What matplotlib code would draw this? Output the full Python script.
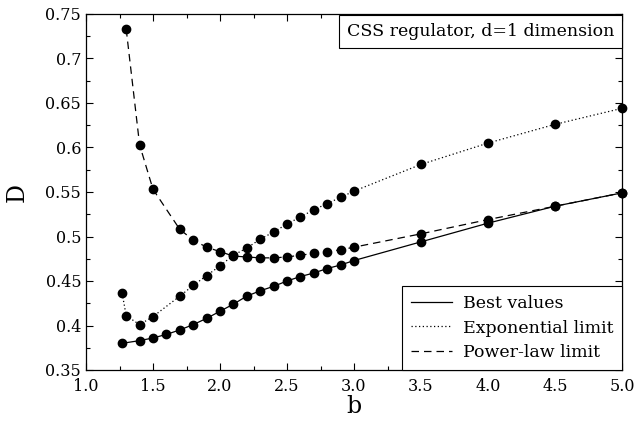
import matplotlib
matplotlib.use("Agg")
import matplotlib.pyplot as plt
from matplotlib.lines import Line2D
from matplotlib.ticker import MultipleLocator, FuncFormatter

plt.rcParams.update({
    "font.family": "DejaVu Serif",
    "mathtext.fontset": "dejavuserif",
})

# Best values (solid)
b_best = [1.27, 1.4, 1.5, 1.6, 1.7, 1.8, 1.9, 2.0, 2.1, 2.2, 2.3, 2.4, 2.5, 2.6,
          2.7, 2.8, 2.9, 3.0, 3.5, 4.0, 4.5, 5.0]
d_best = [0.380, 0.383, 0.386, 0.390, 0.395, 0.401, 0.408, 0.416, 0.424, 0.433,
          0.439, 0.444, 0.450, 0.455, 0.459, 0.464, 0.468, 0.473, 0.494, 0.515,
          0.534, 0.549]

# Exponential limit (dotted)
b_exp = [1.27, 1.3, 1.4, 1.5, 1.7, 1.8, 1.9, 2.0, 2.1, 2.2, 2.3, 2.4, 2.5, 2.6,
         2.7, 2.8, 2.9, 3.0, 3.5, 4.0, 4.5, 5.0]
d_exp = [0.436, 0.411, 0.401, 0.410, 0.433, 0.445, 0.456, 0.467, 0.479, 0.487,
         0.497, 0.505, 0.514, 0.522, 0.530, 0.537, 0.544, 0.551, 0.581, 0.605,
         0.626, 0.644]

# Power-law limit (dashed)
b_pow = [1.3, 1.4, 1.5, 1.7, 1.8, 1.9, 2.0, 2.1, 2.2, 2.3, 2.4, 2.5, 2.6, 2.7,
         2.8, 2.9, 3.0, 3.5, 4.0, 4.5, 5.0]
d_pow = [0.733, 0.603, 0.553, 0.508, 0.496, 0.488, 0.483, 0.478, 0.477, 0.476,
         0.476, 0.477, 0.479, 0.481, 0.483, 0.485, 0.488, 0.503, 0.519, 0.534,
         0.549]

styles = {
    "Best values": "-",
    "Exponential limit": (0, (1, 2)),
    "Power-law limit": (0, (6, 4)),
}

fig = plt.figure(figsize=(6.36, 4.29), dpi=100)
ax = fig.add_axes([86 / 636, 1 - 370 / 429, 536 / 636, 356 / 429])

mk = dict(marker="o", markersize=6, color="black", clip_on=False, zorder=3, linewidth=0.9)
ax.plot(b_best, d_best, linestyle=styles["Best values"], **mk)
ax.plot(b_exp, d_exp, linestyle=styles["Exponential limit"], **mk)
ax.plot(b_pow, d_pow, linestyle=styles["Power-law limit"], **mk)

ax.set_xlim(1.0, 5.0)
ax.set_ylim(0.35, 0.75)
ax.xaxis.set_major_locator(MultipleLocator(0.5))
ax.xaxis.set_minor_locator(MultipleLocator(0.25))
ax.yaxis.set_major_locator(MultipleLocator(0.05))
ax.yaxis.set_minor_locator(MultipleLocator(0.025))
ax.xaxis.set_major_formatter(FuncFormatter(lambda v, p: f"{v:.1f}"))
ax.yaxis.set_major_formatter(FuncFormatter(lambda v, p: f"{v:.2f}".rstrip("0")))
ax.tick_params(which="both", direction="in", top=True, right=True, labelsize=11.5)
ax.tick_params(axis="x", pad=6)
ax.tick_params(which="major", length=5, width=0.8)
ax.tick_params(which="minor", length=3, width=0.8)
for s in ax.spines.values():
    s.set_linewidth(0.9)

ax.set_xlabel("b", fontsize=17, labelpad=0)
ax.set_ylabel("D", fontsize=17, labelpad=12)

ax.text(0.985, 0.975, "CSS regulator, d=1 dimension", transform=ax.transAxes,
        ha="right", va="top", fontsize=12.5,
        bbox=dict(boxstyle="square,pad=0.45", facecolor="white", edgecolor="black", linewidth=0.8))

handles = [Line2D([], [], color="black", linewidth=0.9, linestyle=ls) for ls in styles.values()]
leg = ax.legend(handles=handles, labels=list(styles.keys()),
                loc="lower right", fontsize=12.5, frameon=True, fancybox=False,
                edgecolor="black", framealpha=1, handlelength=2.4, borderaxespad=0,
                handletextpad=0.6, labelspacing=0.45, borderpad=0.5)
leg.get_frame().set_linewidth(0.8)

fig.savefig("out.png", dpi=100)
